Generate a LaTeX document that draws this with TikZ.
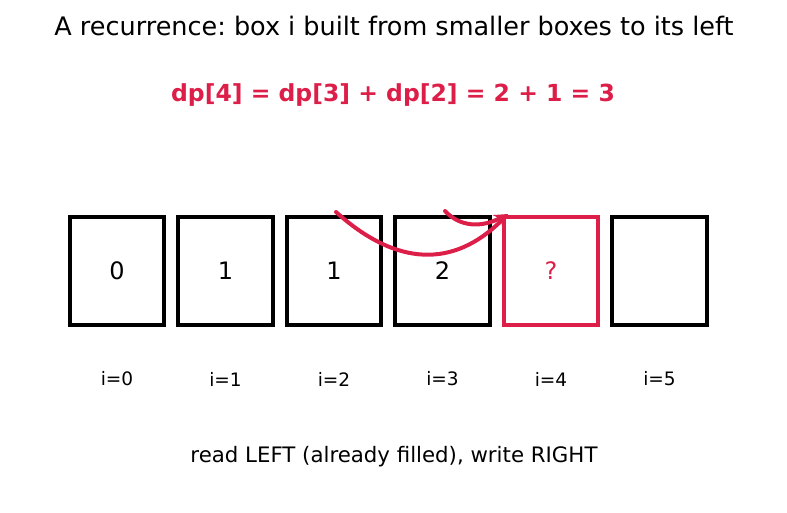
\documentclass[tikz,border=0pt]{standalone}
\usepackage{fontspec}
\setmainfont{DejaVu Sans}
\frenchspacing
\usetikzlibrary{arrows.meta}
\definecolor{crim}{RGB}{220,30,72}
\begin{document}
\begin{tikzpicture}[x=1pt,y=-1pt,
  cell/.style={draw=black,line width=3.8pt,minimum width=94.5pt,minimum height=108.5pt,inner sep=0pt,font=\fontsize{24}{28}\selectfont},
  hot/.style={cell,draw=crim,text=crim,line width=4.4pt},
  idx/.style={font=\fontsize{18.5}{22}\selectfont},
  link/.style={draw=crim,line width=4pt,line cap=round,-{Stealth[length=14pt,width=12pt]}}]
\useasboundingbox (0,0) rectangle (787,512);
\node (title) at (394,26) {\fontsize{25.5}{30}\selectfont A recurrence: box i built from smaller boxes to its left};
\node[text=crim] (eq) at (393,95) {\fontsize{23.5}{28}\selectfont\bfseries dp[4] = dp[3] + dp[2] = 2 + 1 = 3};
\node[cell] (b0) at (117,271) {0};
\node[cell] (b1) at (225.5,271) {1};
\node[cell] (b2) at (334,271) {1};
\node[cell] (b3) at (442.5,271) {2};
\node[hot] (b4) at (551,271) {?};
\node[cell] (b5) at (659.5,271) {};
\node[idx] (l0) at (117,379) {i=0};
\node[idx] (l1) at (225.5,379) {i=1};
\node[idx] (l2) at (334,379) {i=2};
\node[idx] (l3) at (442.5,379) {i=3};
\node[idx] (l4) at (551,379) {i=4};
\node[idx] (l5) at (659.5,379) {i=5};
\node (note) at (394,457) {\fontsize{21.3}{25}\selectfont read LEFT (already filled), write RIGHT};
\coordinate (s2) at (336,212);
\coordinate (s3) at (445,211);
\coordinate (t4) at (508,214);
\draw[link] (s2) .. controls (397,267) and (454,268) .. (t4);
\draw[link] (s3) .. controls (460,227) and (481,228) .. (t4);
\end{tikzpicture}
\end{document}
